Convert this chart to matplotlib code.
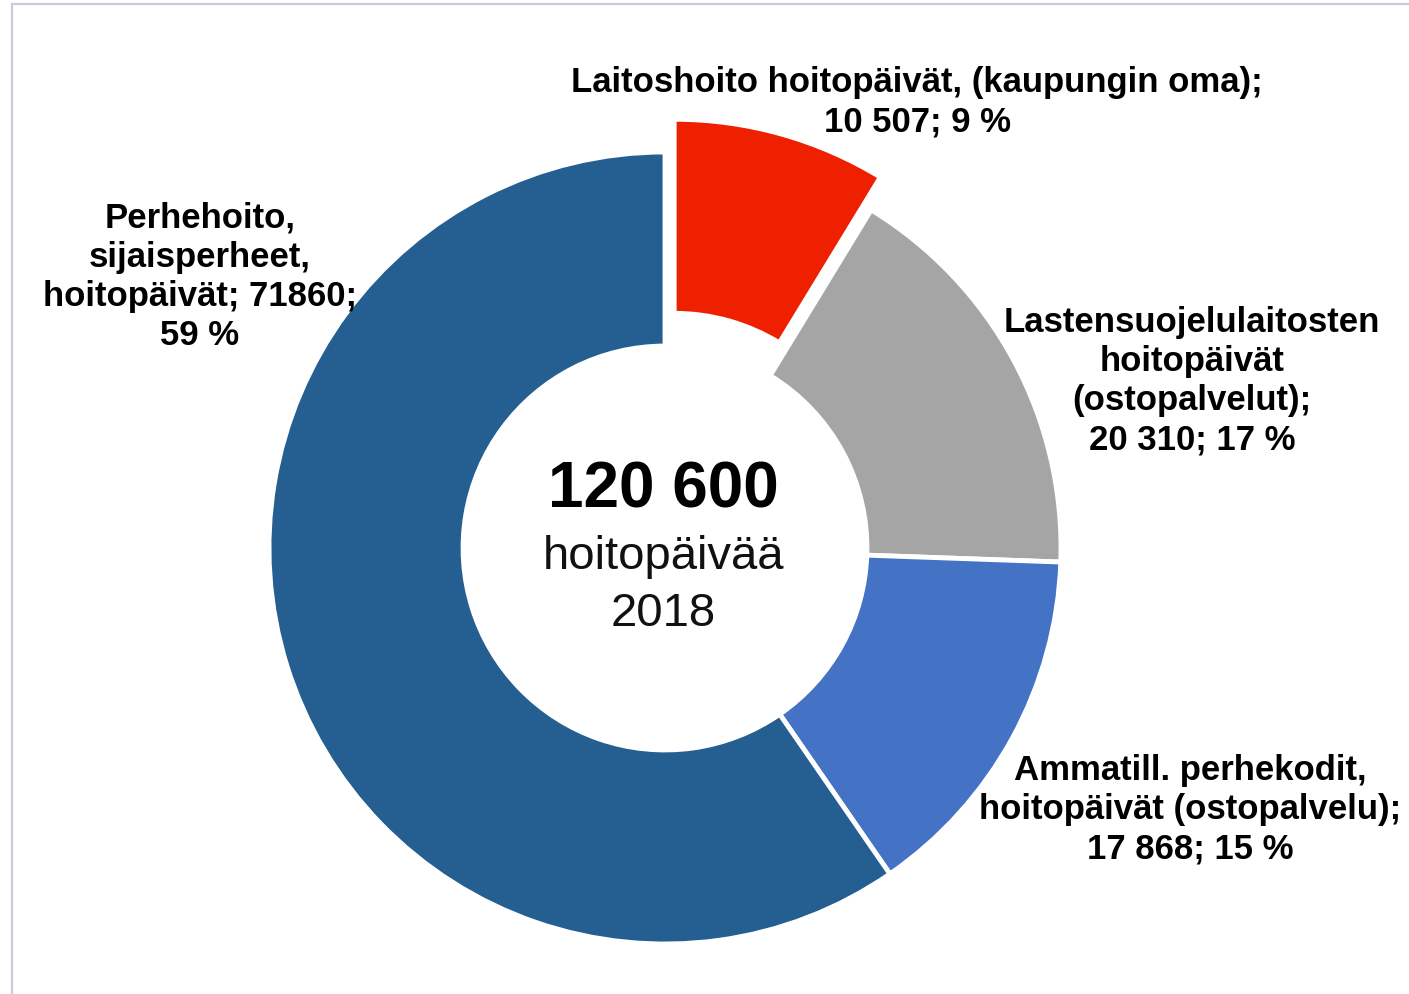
import matplotlib.pyplot as plt
from matplotlib.patches import Rectangle

plt.rcParams['font.family'] = ['Liberation Sans', 'DejaVu Sans']

# data
labels = ["Laitoshoito hoitopäivät, (kaupungin oma);\n10 507; 9 %",
          "Lastensuojelulaitosten\nhoitopäivät\n(ostopalvelut);\n20 310; 17 %",
          "Ammatill. perhekodit,\nhoitopäivät (ostopalvelu);\n17 868; 15 %",
          "Perhehoito,\nsijaisperheet,\nhoitopäivät; 71860;\n59 %"]
values = [10507, 20310, 17868, 71860]
colors = ["#EE2000", "#A5A5A5", "#4472C4", "#255E91"]
total_text = "120 600"
sub_lines = ["hoitopäivää", "2018"]

W, H = 1409, 994
fig = plt.figure(figsize=(W / 100, H / 100), dpi=100)
ax = fig.add_axes([0, 0, 1, 1])

cx, cy, R = 665, H - 548, 396
# explode is in data units here (1 unit = 1 px)
explode = [34, 0, 0, 0]
wedges, _ = ax.pie(values, colors=colors, explode=explode, startangle=90,
                   counterclock=False, radius=R, center=(cx, cy),
                   wedgeprops=dict(width=R * 0.49, edgecolor='white', linewidth=3.5),
                   frame=True)
ax.set_xlim(0, W)
ax.set_ylim(0, H)
ax.set_aspect('auto')
ax.axis('off')

# labels
label_pos = [(917, 102), (1192, 381), (1190, 810), (200, 277)]
for txt, (x, y) in zip(labels, label_pos):
    ax.text(x, H - y, txt, ha='center', va='center', fontsize=25,
            fontweight='bold', linespacing=1.24, color='black')

# center text
ax.text(cx - 2, H - 490, total_text, ha='center', va='center', fontsize=46,
        fontweight='bold')
for txt, y in zip(sub_lines, [557, 614]):
    ax.text(cx - 2, H - y, txt, ha='center', va='center', fontsize=34,
            color='#111111')

# chart frame (only top/left visible)
ax.add_patch(Rectangle((12, -20), W + 40, H - 4 + 20, fill=False,
                       edgecolor='#C9CDD9', linewidth=1.6, clip_on=False))

fig.savefig('out.png', dpi=100)
